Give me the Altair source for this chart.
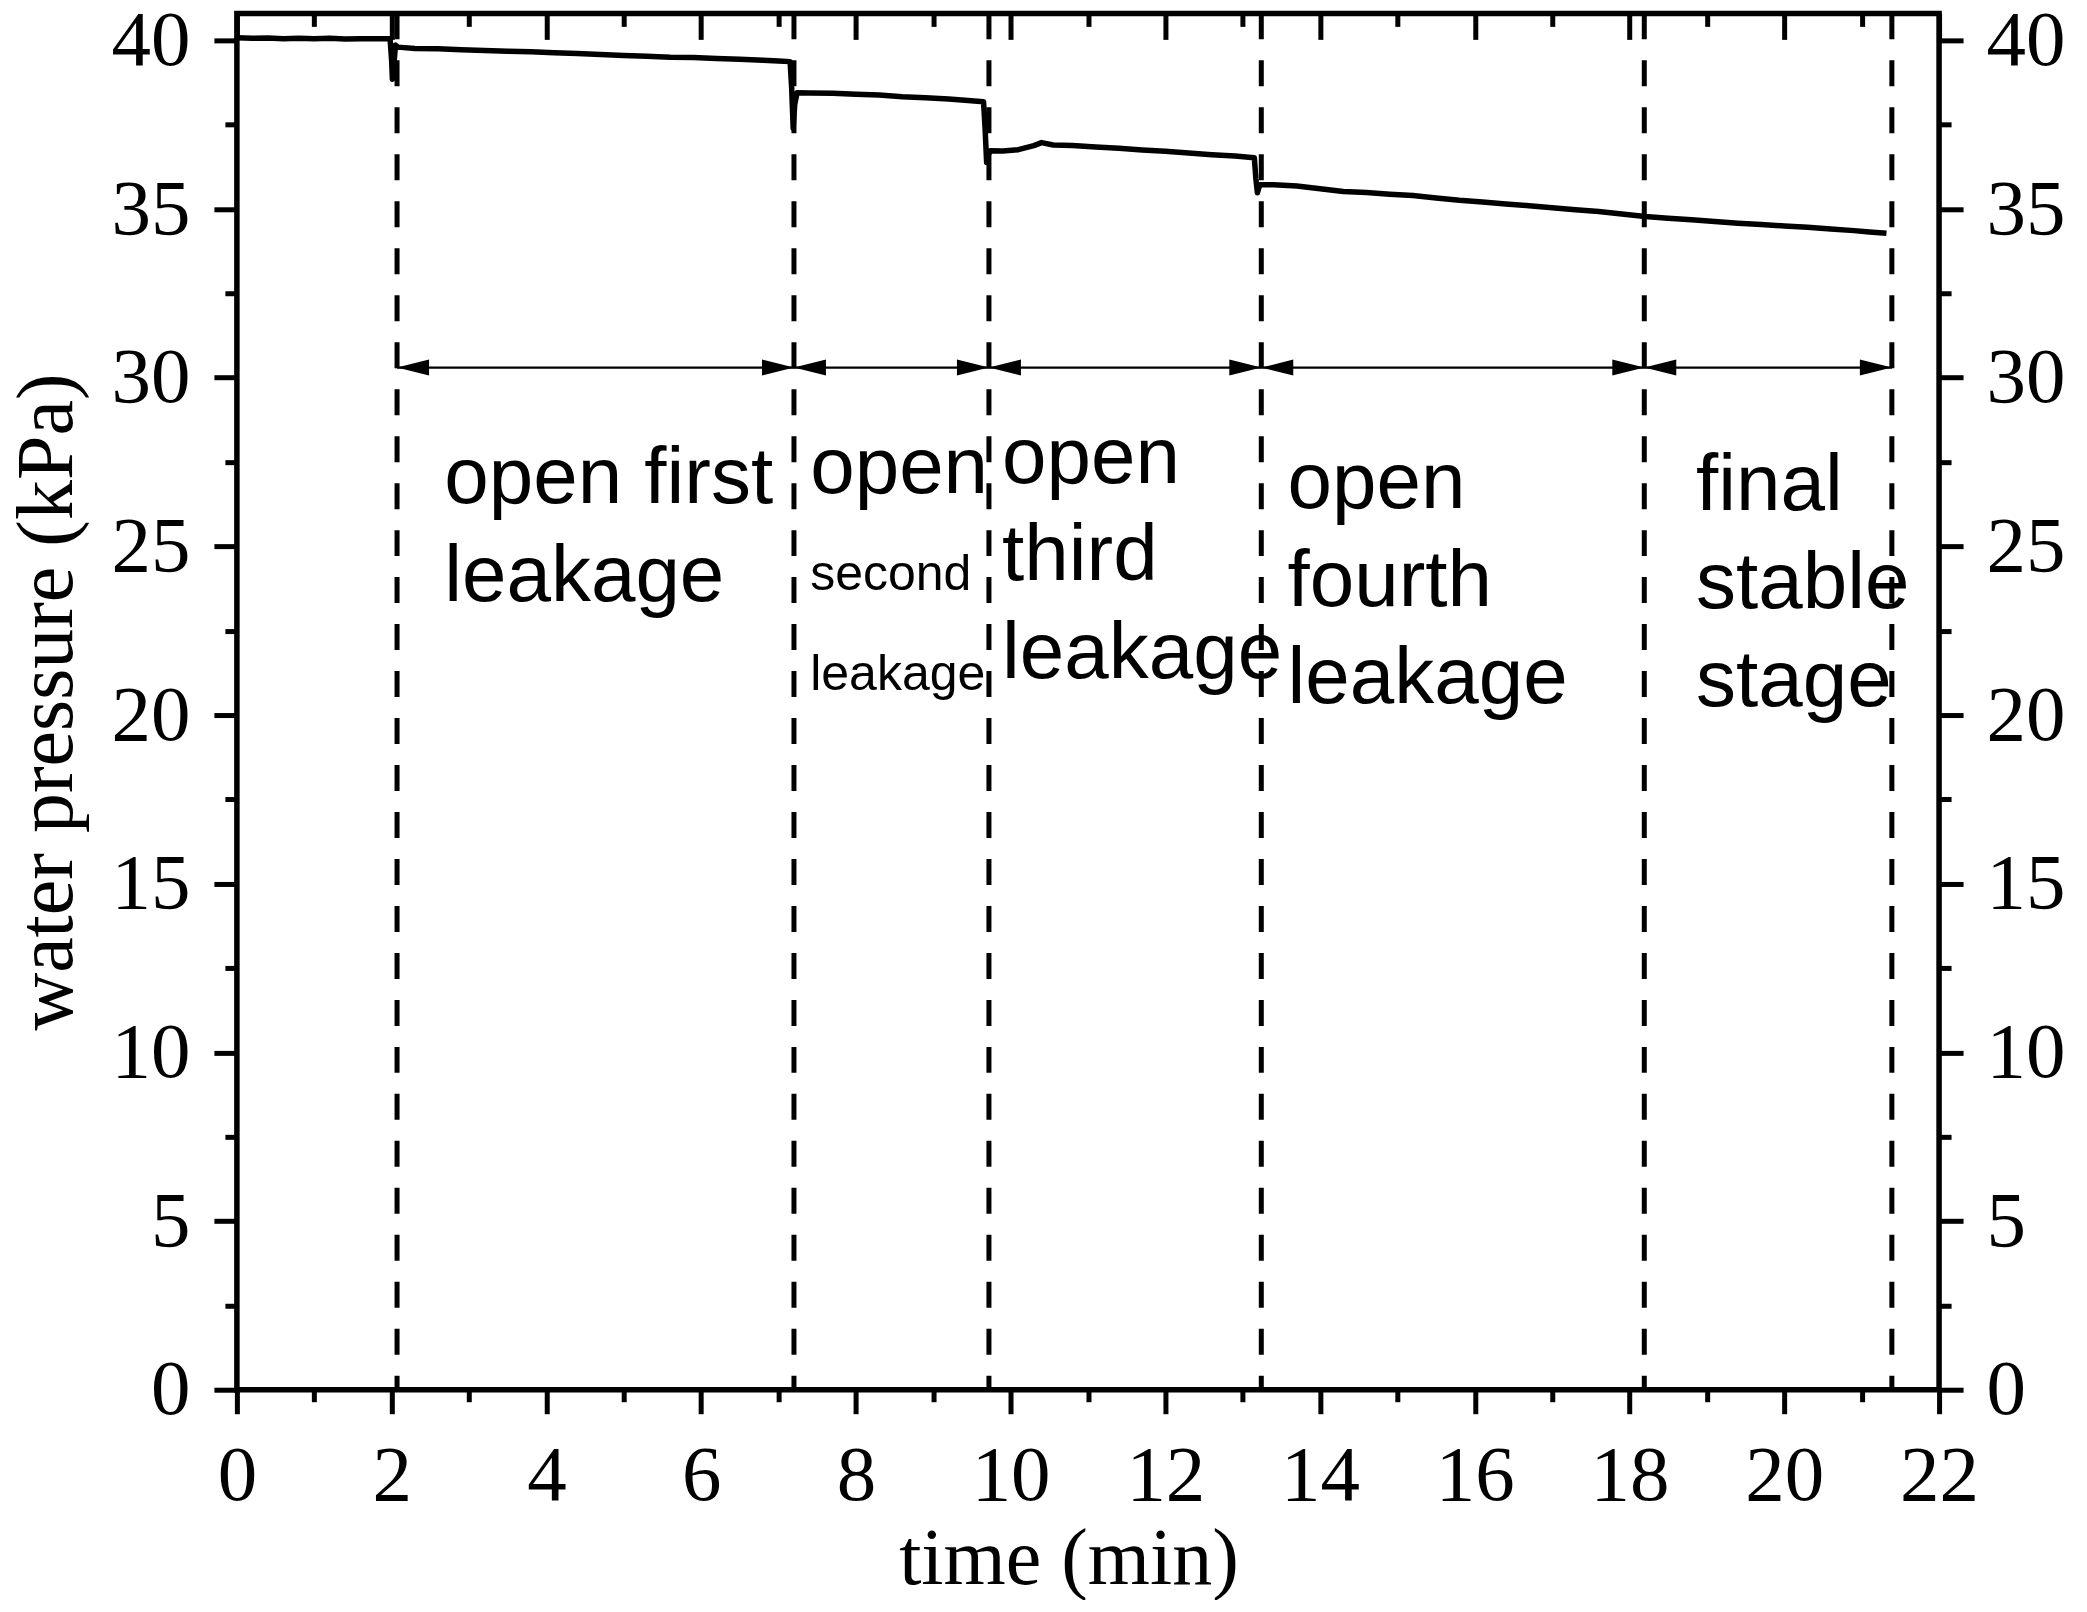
import altair as alt
import pandas as pd

# ---- measured pressure record (time in min, water pressure in kPa) ----
time_min = [0.00, 0.20, 0.40, 0.60, 0.80, 1.00, 1.20, 1.40, 1.60, 1.80, 1.98,
            2.00, 2.01, 2.03, 2.05, 2.08,
            2.30, 2.60, 2.90, 3.20, 3.50, 3.80, 4.10, 4.40, 4.70, 5.00, 5.30, 5.60,
            5.90, 6.20, 6.50, 6.80, 7.00, 7.15,
            7.17, 7.19, 7.21, 7.24,
            7.40, 7.70, 8.00, 8.30, 8.60, 8.90, 9.20, 9.45, 9.65,
            9.67, 9.69, 9.71, 9.74,
            9.90, 10.10, 10.30, 10.40, 10.55, 10.80, 11.10, 11.40, 11.70, 12.00,
            12.30, 12.60, 12.90, 13.15,
            13.17, 13.19, 13.22,
            13.40, 13.70, 14.00, 14.30, 14.60, 14.90, 15.20, 15.50, 15.80, 16.10,
            16.40, 16.70, 17.00, 17.30, 17.60, 17.90, 18.20, 18.50, 18.80, 19.10,
            19.40, 19.70, 20.00, 20.30, 20.60, 20.90, 21.10, 21.32]
pressure_kpa = [40.08, 40.06, 40.07, 40.05, 40.06, 40.05, 40.06, 40.04, 40.05, 40.05, 40.05,
                39.40, 38.85, 39.30, 39.86, 39.80,
                39.76, 39.75, 39.72, 39.70, 39.68, 39.66, 39.63, 39.61, 39.58, 39.55, 39.53, 39.50,
                39.49, 39.46, 39.44, 39.41, 39.39, 39.37,
                38.60, 37.40, 38.10, 38.45,
                38.44, 38.43, 38.40, 38.38, 38.33, 38.30, 38.26, 38.22, 38.18,
                37.40, 36.38, 36.60, 36.73,
                36.72, 36.76, 36.88, 36.97, 36.90, 36.88, 36.84, 36.80, 36.75, 36.71,
                36.66, 36.61, 36.57, 36.52,
                35.90, 35.48, 35.72,
                35.72, 35.68, 35.60, 35.52, 35.49, 35.44, 35.40, 35.33, 35.26, 35.21,
                35.15, 35.10, 35.04, 34.98, 34.93, 34.85, 34.78, 34.73, 34.68, 34.63,
                34.58, 34.54, 34.50, 34.46, 34.41, 34.36, 34.32, 34.28]

# ---- stage boundaries (dashed lines) ----
stage_bounds = [2.07, 7.20, 9.72, 13.24, 18.19, 21.39]
arrow_level = 30.3

# ---- stage labels ----
label_text = ["open first", "leakage",
              "open", "second", "leakage",
              "open", "third", "leakage",
              "open", "fourth", "leakage",
              "final", "stable", "stage"]
label_x = [2.68, 2.68,
           7.41, 7.41, 7.41,
           9.89, 9.89, 9.89,
           13.58, 13.58, 13.58,
           18.86, 18.86, 18.86]
label_y = [26.28, 23.37,
           26.57, 23.71, 20.75,
           26.87, 24.00, 21.10,
           26.13, 23.22, 20.36,
           26.08, 23.18, 20.26]
label_size = [80, 80,
              80, 50, 50,
              80, 80, 80,
              80, 80, 80,
              80, 80, 80]

x_ticks = list(range(0, 23))
y_ticks = [i * 2.5 for i in range(0, 17)]

series_df = pd.DataFrame({"t": time_min, "p": pressure_kpa})
dash_df = pd.DataFrame({"xd": stage_bounds})
arrow_df = pd.DataFrame({"x0": stage_bounds[:-1], "x1": stage_bounds[1:],
                         "ya": [arrow_level] * (len(stage_bounds) - 1)})
text_df = pd.DataFrame({"x": label_x, "y": label_y, "label": label_text, "size": label_size})

xscale = alt.Scale(domain=[0, 22], nice=False, zero=False)
yscale = alt.Scale(domain=[0, 40.8], nice=False, zero=False)

SERIF = "Liberation Serif"
SANS = "Liberation Sans"

common = dict(grid=False, domain=False, tickColor="black", tickWidth=5,
              labelColor="black", labelFont=SERIF, labelFontSize=79,
              labelOverlap=False, labelFlush=False)

x_bottom = alt.Axis(orient="bottom", values=x_ticks,
                    labelExpr="datum.value % 2 === 0 ? datum.label : ''",
                    tickSize={"condition": {"test": "datum.value % 2 === 0", "value": 24}, "value": 12},
                    labelPadding=24, title="time (min)", titleFont=SERIF, titleFontSize=80,
                    titleFontWeight="normal", titleColor="black", titlePadding=5, titleX=832,
                    **common)
x_top = alt.Axis(orient="top", values=x_ticks, labels=False, title=None,
                 tickSize={"condition": {"test": "datum.value % 2 === 0", "value": -26}, "value": -13},
                 **common)
y_left = alt.Axis(orient="left", values=y_ticks,
                  labelExpr="datum.value % 5 === 0 ? datum.label : ''",
                  tickSize={"condition": {"test": "datum.value % 5 === 0", "value": 23}, "value": 12},
                  labelPadding=24, title="water pressure (kPa)", titleFont=SERIF, titleFontSize=80,
                  titleFontWeight="normal", titleColor="black", titlePadding=22, **common)
y_right = alt.Axis(orient="right", values=y_ticks,
                   labelExpr="datum.value % 5 === 0 ? datum.label : ''",
                   tickSize={"condition": {"test": "datum.value % 5 === 0", "value": 24}, "value": 12},
                   labelPadding=23, title=None, **common)

dashed = alt.Chart(dash_df).mark_rule(color="black", strokeWidth=5, strokeDash=[26, 21]).encode(
    x=alt.X("xd:Q", scale=xscale, axis=x_top)
)

line = alt.Chart(series_df).mark_line(color="black", strokeWidth=5.5, strokeJoin="round").encode(
    x=alt.X("t:Q", scale=xscale, axis=x_bottom),
    y=alt.Y("p:Q", scale=yscale, axis=y_left),
)

shaft = alt.Chart(arrow_df).mark_rule(color="black", strokeWidth=2.2).encode(
    x=alt.X("x0:Q", scale=xscale, axis=None),
    x2="x1:Q",
    y=alt.Y("ya:Q", scale=yscale, axis=y_right),
)

head_r = alt.Chart(arrow_df).mark_point(shape="M0,0 L-1,-0.25 L-1,0.25 Z", size=4096, filled=True,
                                        color="black", opacity=1, strokeWidth=0).encode(
    x=alt.X("x1:Q", scale=xscale, axis=None),
    y=alt.Y("ya:Q", scale=yscale, axis=None),
)
head_l = alt.Chart(arrow_df).mark_point(shape="M0,0 L1,-0.25 L1,0.25 Z", size=4096, filled=True,
                                        color="black", opacity=1, strokeWidth=0).encode(
    x=alt.X("x0:Q", scale=xscale, axis=None),
    y=alt.Y("ya:Q", scale=yscale, axis=None),
)

labels = alt.Chart(text_df).mark_text(align="left", baseline="alphabetic", font=SANS, color="black").encode(
    x=alt.X("x:Q", scale=xscale, axis=None),
    y=alt.Y("y:Q", scale=yscale, axis=None),
    text="label:N",
    size=alt.Size("size:Q", scale=None, legend=None),
)

chart = alt.layer(dashed, line, shaft, head_r, head_l, labels).resolve_axis(
    x="independent", y="independent"
).properties(
    width=1703, height=1377,
    padding={"left": 229, "top": 5, "right": 140, "bottom": 210},
    autosize=alt.AutoSizeParams(type="none"),
    background="white",
).configure_view(stroke="black", strokeWidth=5.5)

chart.save("out.html", embed_options={"renderer": "svg", "actions": False})
